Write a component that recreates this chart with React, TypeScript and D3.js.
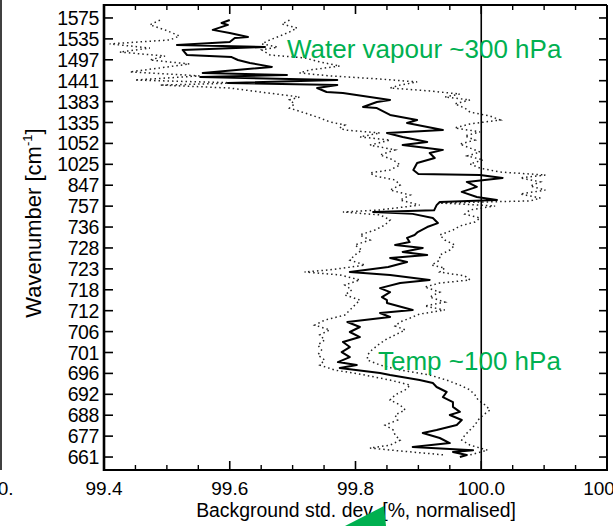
import React from "react";
import * as d3 from "d3";

const wavenumbers = ["1575","1535","1497","1441","1383","1335","1052","1025","847","757","736","728","723","718","712","706","701","696","692","688","677","661"];
const channelsPerLabel = 10;
const xMajorTicks = [99.4, 99.6, 99.8, 100.0, 100.2];
const xMinorTicks = [99.45,99.5,99.55,99.65,99.7,99.75,99.85,99.9,99.95,100.05,100.1,100.15];
const referenceValue = 100.0;

// [channel index, background std. dev. %]
const meanSeries: [number, number][] = [
[1.0,99.600],[2.4,99.587],[3.3,99.597],[5.7,99.573],[7.2,99.600],[9.1,99.629],[9.6,99.608],[11.5,99.600],[12.9,99.516],[13.9,99.656],[15.3,99.525],[17.7,99.532],[18.7,99.603],[20.1,99.613],[21.5,99.632],[23.4,99.667],[26.3,99.557],[27.3,99.691],[28.2,99.553],[29.7,99.771],[31.1,99.597],[32.1,99.771],[33.5,99.739],[35.4,99.754],[35.9,99.780],[39.2,99.855],[40.2,99.834],[42.6,99.812],[43.1,99.834],[46.4,99.855],[48.8,99.898],[50.2,99.882],[53.6,99.939],[55.0,99.850],[56.9,99.875],[59.3,99.914],[60.8,99.875],[63.1,99.939],[64.6,99.918],[67.0,99.926],[69.4,99.898],[72.7,99.892],[74.6,99.900],[75.1,99.998],[76.5,100.034],[78.4,99.977],[80.8,99.993],[83.2,99.969],[85.6,99.993],[87.1,100.025],[88.0,99.934],[89.5,99.929],[92.0,99.925],[92.8,99.828],[93.7,99.891],[95.7,99.923],[98.1,99.931],[100.0,99.914],[102.4,99.899],[103.8,99.894],[105.2,99.882],[107.2,99.886],[108.6,99.863],[110.0,99.907],[111.9,99.875],[113.4,99.914],[114.8,99.855],[116.7,99.882],[119.1,99.852],[121.5,99.791],[122.9,99.855],[125.3,99.918],[126.8,99.871],[129.2,99.839],[131.1,99.855],[133.5,99.842],[134.9,99.850],[136.3,99.850],[139.7,99.891],[141.1,99.839],[143.0,99.855],[145.4,99.787],[147.8,99.807],[150.2,99.791],[152.6,99.807],[155.0,99.780],[157.4,99.791],[159.8,99.778],[162.2,99.791],[164.6,99.772],[166.0,99.802],[167.4,99.775],[169.8,99.839],[170.8,99.855],[173.2,99.902],[174.6,99.923],[176.5,99.929],[178.9,99.945],[181.3,99.939],[183.7,99.955],[186.0,99.955],[188.4,99.966],[189.9,99.950],[192.3,99.969],[194.7,99.961],[197.1,99.929],[198.5,99.907],[200.9,99.934],[203.3,99.950],[205.2,99.891],[206.7,99.987],[207.6,99.955],[209.0,99.977],[210.0,99.966]
];

const lowerSeries: [number, number][] = [
[1.0,99.489],[3.3,99.473],[5.7,99.497],[8.6,99.520],[10.5,99.505],[12.4,99.409],[14.4,99.473],[16.3,99.425],[18.2,99.497],[20.1,99.473],[22.0,99.536],[23.9,99.489],[25.8,99.441],[27.7,99.552],[29.7,99.449],[31.1,99.616],[32.1,99.489],[33.5,99.600],[35.4,99.648],[37.8,99.711],[39.2,99.695],[41.1,99.703],[43.1,99.695],[45.4,99.719],[47.8,99.743],[49.7,99.759],[51.2,99.783],[52.6,99.775],[53.6,99.783],[55.0,99.839],[56.9,99.807],[58.4,99.855],[60.8,99.823],[63.1,99.863],[65.5,99.839],[67.9,99.860],[70.3,99.871],[72.7,99.855],[74.1,99.823],[75.6,99.831],[77.5,99.863],[79.9,99.871],[82.3,99.855],[84.7,99.887],[87.1,99.871],[89.5,99.902],[91.8,99.839],[92.8,99.780],[94.2,99.839],[96.6,99.855],[99.0,99.847],[101.4,99.831],[103.8,99.807],[106.2,99.823],[108.6,99.799],[111.0,99.810],[113.4,99.799],[115.8,99.791],[118.2,99.815],[120.5,99.759],[121.5,99.719],[122.9,99.775],[125.3,99.807],[127.7,99.783],[130.1,99.794],[132.5,99.783],[134.9,99.807],[137.3,99.799],[139.7,99.791],[142.1,99.783],[144.5,99.751],[146.9,99.735],[149.2,99.759],[151.6,99.743],[154.0,99.751],[156.4,99.740],[158.8,99.746],[161.2,99.740],[163.6,99.751],[166.0,99.743],[168.4,99.767],[170.8,99.815],[173.2,99.855],[175.6,99.887],[177.9,99.879],[180.3,99.863],[182.7,99.855],[185.1,99.871],[187.5,99.879],[189.9,99.863],[192.3,99.867],[194.7,99.847],[197.1,99.860],[199.5,99.863],[201.9,99.871],[204.3,99.855],[205.7,99.823],[207.1,99.871],[209.0,99.942]
];

const upperSeries: [number, number][] = [
[1.0,99.695],[2.9,99.683],[4.8,99.707],[6.7,99.695],[8.6,99.680],[10.5,99.664],[12.4,99.651],[13.9,99.676],[15.3,99.651],[17.7,99.664],[19.1,99.719],[21.0,99.743],[23.0,99.775],[24.9,99.727],[26.3,99.711],[27.7,99.759],[29.2,99.839],[30.6,99.898],[32.1,99.871],[33.5,99.855],[34.9,99.918],[36.4,99.966],[37.8,99.942],[39.2,99.982],[41.1,99.958],[43.1,99.974],[45.0,99.982],[46.9,100.014],[48.8,100.030],[50.7,99.982],[52.6,99.958],[54.5,99.998],[56.4,99.974],[58.4,99.990],[60.3,99.966],[62.2,99.982],[64.1,99.998],[66.0,99.978],[67.9,100.003],[69.8,99.982],[71.8,99.998],[73.7,100.030],[75.1,100.102],[76.5,100.062],[78.4,100.094],[80.4,100.078],[82.3,100.102],[84.2,100.062],[86.1,100.094],[87.5,100.078],[88.5,99.934],[89.9,100.022],[91.8,99.982],[93.8,99.974],[95.7,99.998],[97.6,99.990],[99.5,99.966],[101.4,99.955],[103.8,99.934],[106.2,99.942],[108.6,99.958],[111.0,99.950],[113.4,99.934],[115.8,99.934],[118.2,99.921],[119.6,99.942],[121.5,99.934],[123.4,99.974],[125.3,99.982],[126.8,99.934],[128.7,99.910],[131.1,99.934],[133.5,99.918],[135.9,99.942],[137.8,99.910],[139.7,99.942],[141.6,99.902],[143.5,99.887],[145.4,99.871],[147.3,99.863],[149.2,99.879],[151.6,99.863],[154.0,99.847],[156.4,99.836],[158.8,99.826],[161.2,99.819],[163.6,99.819],[166.0,99.839],[168.4,99.871],[170.8,99.918],[173.2,99.945],[175.6,99.966],[177.9,99.982],[180.3,99.990],[182.7,99.995],[185.1,100.006],[187.5,100.014],[189.9,100.003],[192.3,99.995],[194.7,99.990],[197.1,99.982],[199.5,99.974],[201.9,99.969],[204.3,99.982],[206.7,100.010],[209.0,99.982]
];

const W = 613, H = 526;
const FONT = "'Liberation Sans', Arial, Helvetica, sans-serif";
const GREEN = "#00b050";

export default function App() {
  const x = d3.scaleLinear().domain([99.4, 100.2]).range([104, 607]);
  const y = d3.scaleLinear().domain([-6.2, 216.2]).range([5, 470]);
  const line = d3.line<[number, number]>().x(d => x(d[1])).y(d => y(d[0]));
  const [x0, x1] = x.range();
  const [y0, y1] = y.range();

  return (
    <svg width={W} height={H} style={{ position: "fixed", left: 0, top: 0, background: "#fff" }} fontFamily={FONT}>
      <defs>
        <clipPath id="leftcut"><rect x={0} y={0} width={14} height={H} /></clipPath>
      </defs>
      <rect x={0} y={0} width={W} height={H} fill="#fff" />
      {/* neighbouring panel remnants */}
      <line x1={1} x2={1} y1={0} y2={470} stroke="#000" strokeWidth={1.5} />
      <text x={-23.5} y={495} fontSize={19} clipPath="url(#leftcut)">100.2</text>

      {/* data */}
      <path d={line(lowerSeries) || ""} fill="none" stroke="#222" strokeWidth={1.5} strokeDasharray="1.5 3" />
      <path d={line(upperSeries) || ""} fill="none" stroke="#222" strokeWidth={1.5} strokeDasharray="1.5 3" />
      <path d={line(meanSeries) || ""} fill="none" stroke="#000" strokeWidth={2} strokeLinejoin="round" />
      <line x1={x(referenceValue)} x2={x(referenceValue)} y1={y0} y2={y1} stroke="#000" strokeWidth={1.6} />

      {/* frame */}
      <line x1={x0} x2={x1} y1={y0} y2={y0} stroke="#000" strokeWidth={2} />
      <line x1={x0} x2={x1 + 1} y1={y1} y2={y1} stroke="#000" strokeWidth={2.2} />
      <line x1={x0} x2={x0} y1={y0 - 1} y2={y1 + 1} stroke="#000" strokeWidth={2.6} />
      <line x1={x1} x2={x1} y1={y0} y2={y1} stroke="#000" strokeWidth={2} />

      {/* x ticks */}
      {xMajorTicks.map(t => (
        <g key={"M" + t}>
          <line x1={x(t)} x2={x(t)} y1={y1} y2={y1 - 9} stroke="#000" strokeWidth={1.6} />
          <line x1={x(t)} x2={x(t)} y1={y0} y2={y0 + 9} stroke="#000" strokeWidth={1.6} />
          <text x={x(t)} y={495} fontSize={19} textAnchor="middle">{t.toFixed(1)}</text>
        </g>
      ))}
      {xMinorTicks.map(t => (
        <g key={"m" + t}>
          <line x1={x(t)} x2={x(t)} y1={y1} y2={y1 - 5} stroke="#000" strokeWidth={1.4} />
          <line x1={x(t)} x2={x(t)} y1={y0} y2={y0 + 5} stroke="#000" strokeWidth={1.4} />
        </g>
      ))}

      {/* y ticks */}
      {wavenumbers.map((w, i) => {
        const yy = y(i * channelsPerLabel);
        return (
          <g key={w + i}>
            <line x1={x0} x2={x0 + 9} y1={yy} y2={yy} stroke="#000" strokeWidth={1.6} />
            <line x1={x1} x2={x1 - 8} y1={yy} y2={yy} stroke="#000" strokeWidth={1.6} />
            <text x={99} y={yy} dy="0.36em" fontSize={19.5} textAnchor="end" letterSpacing={-0.4}>{w}</text>
          </g>
        );
      })}

      {/* axis titles */}
      <text x={356} y={517} fontSize={19.4} textAnchor="middle">Background std. dev. [%, normalised]</text>
      <text transform={`translate(41,223) rotate(-90)`} fontSize={22} textAnchor="middle">
        Wavenumber [cm<tspan fontSize={13} dy={-9}>-1</tspan><tspan dy={9}>]</tspan>
      </text>

      {/* annotations */}
      <text x={287} y={58} fontSize={26} fill={GREEN}>Water vapour ~300 hPa</text>
      <text x={378} y={370} fontSize={26} fill={GREEN}>Temp ~100 hPa</text>
      <polygon points="345,526 384,506 386,526" fill={GREEN} />
    </svg>
  );
}
